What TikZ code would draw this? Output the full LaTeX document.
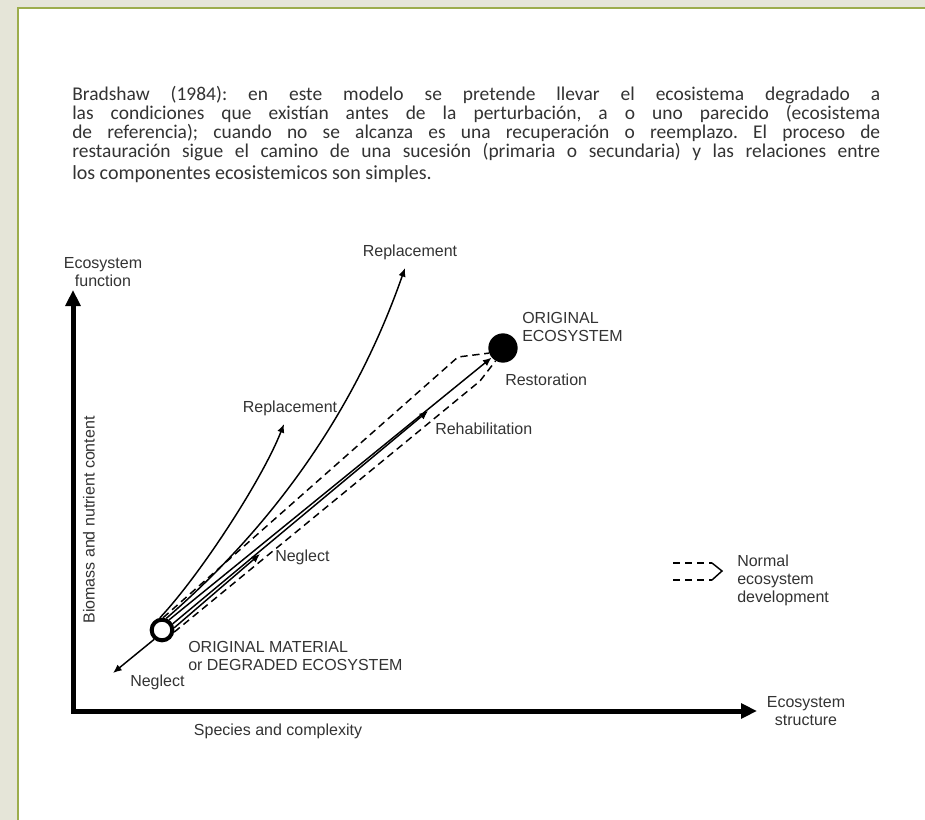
\documentclass[tikz,border=0pt]{standalone}
\usepackage{fontspec}
\setmainfont{Liberation Sans}
\newfontfamily\parafont{Carlito}
\usetikzlibrary{arrows.meta}
\definecolor{outerbg}{HTML}{E5E5D8}
\definecolor{panelline}{HTML}{9CAD4C}
\definecolor{paratext}{HTML}{333333}
\definecolor{lbltext}{HTML}{333333}
\frenchspacing
\begin{document}
\begin{tikzpicture}[x=0.75pt,y=-0.75pt,
  paraline/.style={anchor=base west, inner sep=0pt, text=paratext, font=\parafont\fontsize{14.6}{16}\selectfont},
  lbl/.style={inner sep=0pt, text=lbltext, font=\fontsize{12}{13.5}\selectfont},
  axisline/.style={line width=3.75pt, line join=miter, {Triangle[length=12pt,width=11pt]}-{Triangle[length=12pt,width=11pt]}},
  fineline/.style={line width=1.1pt},
  tipped/.style={fineline, -{Latex[length=6.5pt,width=5.5pt]}},
  devline/.style={fineline, dash pattern=on 5.5pt off 3.5pt},
]
\useasboundingbox (0,0) rectangle (925,820);
\fill[outerbg] (0,0) rectangle (925,820);
\fill[white] (18,8) rectangle (925,820);
\draw[panelline, line width=1.2pt] (18,820) -- (18,8) -- (925,8);

% paragraph
\node[paraline] (p1) at (72,101) {\hbox to 606pt{Bradshaw (1984): en este modelo se pretende llevar el ecosistema degradado a}};
\node[paraline] (p2) at (72,120) {\hbox to 606pt{las condiciones que existían antes de la perturbación, a o uno parecido (ecosistema}};
\node[paraline] (p3) at (72,139) {\hbox to 606pt{de referencia); cuando no se alcanza es una recuperación o reemplazo. El proceso de}};
\node[paraline] (p4) at (72,158) {\hbox to 606pt{restauración sigue el camino de una sucesión (primaria o secundaria) y las relaciones entre}};
\node[paraline, font=\parafont\fontsize{15}{17}\selectfont] (p5) at (72,180) {los componentes ecosistemicos son simples.};

% axes
\coordinate (ytip) at (73,290);
\coordinate (corner) at (73,711);
\coordinate (xtip) at (757,711);
\draw[axisline] (ytip) -- (corner) -- (xtip);

\node[lbl, align=center] (yaxtitle) at (103,272) {Ecosystem\\function};
\node[lbl, rotate=90] (ylab) at (89,520) {Biomass and nutrient content};
\node[lbl, align=center] (xaxtitle) at (806,711) {Ecosystem\\structure};
\node[lbl] (xlab) at (278,731) {Species and complexity};

% states
\node[circle, draw=black, fill=white, line width=3pt, minimum size=15.5pt, inner sep=0pt] (deg) at (162,630) {};
\node[circle, fill=black, minimum size=22pt, inner sep=0pt] (orig) at (503,348) {};

\coordinate (udk) at (458,357);
\coordinate (ldk) at (480,381);
\coordinate (rehabtip) at (428,411);
\coordinate (negtip) at (260,554);
\coordinate (negtwotip) at (113,673);
\coordinate (repatip) at (405,268);
\coordinate (repbtip) at (284,424);

\draw[devline] (deg.85) -- (udk) -- (orig.200);
\draw[tipped] (deg.55) -- (orig.220);
\draw[tipped] (deg.30) -- (rehabtip);
\draw[tipped] (deg.10) -- (negtip);
\draw[devline] (deg.-10) -- (ldk) -- (orig.240);
\draw[tipped] (deg.230) -- (negtwotip);
\draw[tipped] (deg.100) .. controls (200,575) and (262,480) .. (repbtip);
\draw[tipped] (deg.70) .. controls (245,550) and (345,440) .. (repatip);

% labels
\node[lbl] (repa) at (410,252) {Replacement};
\node[lbl] (repb) at (290,408) {Replacement};
\node[lbl, align=left, anchor=west] (origlbl) at (522,327) {ORIGINAL\\ECOSYSTEM};
\node[lbl, anchor=west] (restlbl) at (505,380) {Restoration};
\node[lbl, anchor=west] (rehablbl) at (435,429) {Rehabilitation};
\node[lbl, anchor=west] (negalbl) at (275,557) {Neglect};
\node[lbl, align=left, anchor=west] (deglbl) at (188,656) {ORIGINAL MATERIAL\\or DEGRADED ECOSYSTEM};
\node[lbl, anchor=west] (negblbl) at (130,682) {Neglect};

% legend
\coordinate (lgaa) at (673,563);
\coordinate (lgab) at (712,563);
\coordinate (lgtip) at (722,571);
\coordinate (lgba) at (673,580);
\coordinate (lgbb) at (712,580);
\draw[devline] (lgaa) -- (lgab);
\draw[devline] (lgba) -- (lgbb);
\draw[fineline] (lgab) -- (lgtip) -- (lgbb);
\node[lbl, align=left, anchor=west] (legtext) at (737,580) {Normal\\ecosystem\\development};
\end{tikzpicture}
\end{document}
